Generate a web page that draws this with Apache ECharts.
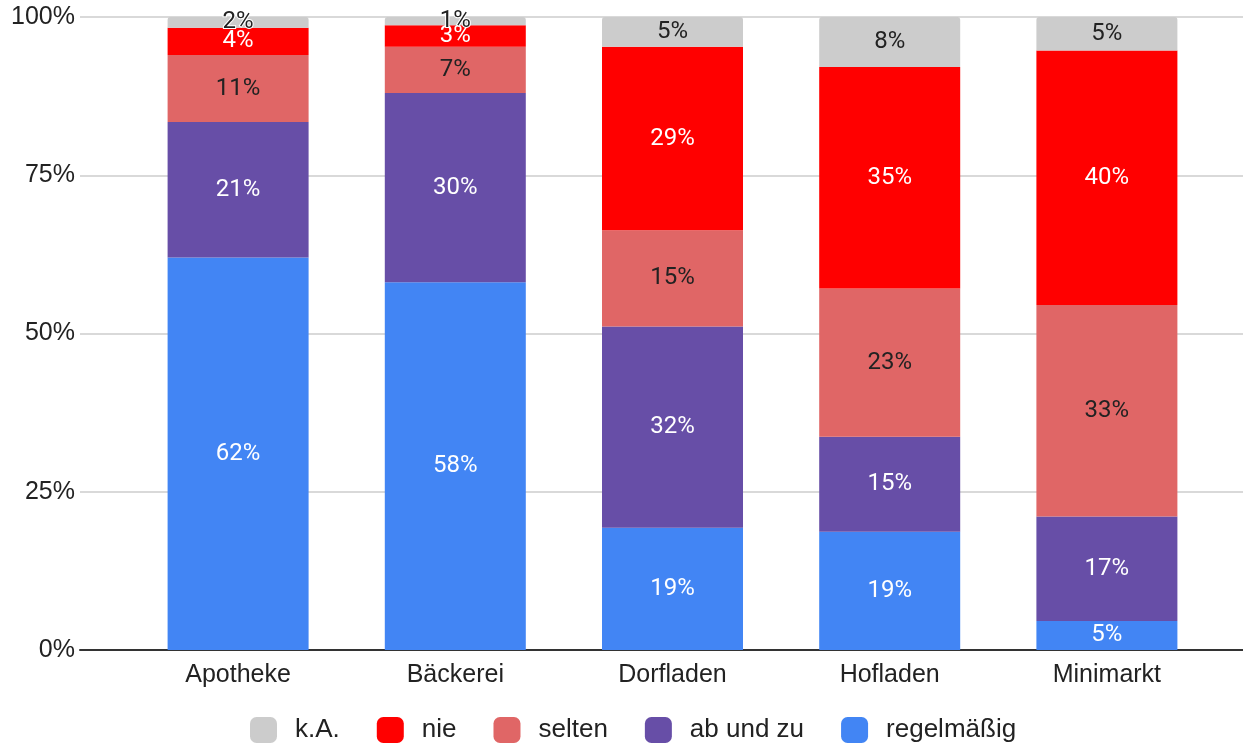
<!DOCTYPE html>
<html>
<head>
<meta charset="utf-8">
<script src="https://cdn.jsdelivr.net/npm/echarts@6/dist/echarts.min.js"></script>
<style>
  html, body { margin: 0; padding: 0; background: #fff; }
  #chart { width: 1243px; height: 744px; }
</style>
</head>
<body>
<div id="chart"></div>
<script>
// categories + values (percent)
var categories = ["Apotheke", "Bäckerei", "Dorfladen", "Hofladen", "Minimarkt"];
var regelmaessig = [62.0, 58.1, 19.3, 18.7, 4.6];
var abUndZu = [21.4, 29.9, 31.8, 15.0, 16.5];
var selten = [10.6, 7.3, 15.2, 23.4, 33.4];
var nie = [4.3, 3.4, 29.0, 35.0, 40.2];
var kA = [1.7, 1.3, 4.7, 7.9, 5.3];
var yTicks = [0, 25, 50, 75, 100];

var myChart = echarts.init(document.getElementById("chart"));
var axisFont = "'Liberation Sans', Arial, sans-serif";
var labelFont = "Roboto, Arial, sans-serif";

function pct(p) { return Math.round(p.value) + "%"; }

function makeSeries(name, data, color, textColor, top) {
  return {
    name: name,
    type: "bar",
    stack: "all",
    xAxisIndex: 1,
    yAxisIndex: 1,
    barWidth: 141,
    itemStyle: { color: color, borderRadius: top ? [3, 3, 0, 0] : 0 },
    label: {
      show: true,
      position: "inside",
      formatter: pct,
      color: textColor,
      fontSize: 24,
      fontFamily: labelFont
    },
    emphasis: { disabled: true },
    data: data.map(function (v) {
      // tiny segments get a white halo like the original
      if (top && v < 3) {
        return { value: v, label: { textBorderColor: "#fff", textBorderWidth: 2 } };
      }
      return v;
    })
  };
}

var option = {
  animation: false,
  legend: {
    top: 717,
    left: 250,
    padding: 0,
    itemWidth: 27,
    itemHeight: 26,
    itemGap: 37,
    icon: "roundRect",
    textStyle: { fontSize: 26, color: "#222", fontFamily: axisFont, padding: [0, 0, 0, 13] },
    data: ["k.A.", "nie", "selten", "ab und zu", "regelmäßig"]
  },
  grid: [
    { left: 80, right: 0, top: 17, bottom: 94 },
    { left: 129.5, right: 27.5, top: 17, bottom: 94 }
  ],
  xAxis: [
    {
      gridIndex: 0,
      type: "category",
      data: [""],
      axisLine: { lineStyle: { color: "#333", width: 2 } },
      axisTick: { show: false },
      axisLabel: { show: false }
    },
    {
      gridIndex: 1,
      type: "category",
      data: categories,
      axisLine: { show: false },
      axisTick: { show: false },
      axisLabel: { fontSize: 25, color: "#222", fontFamily: axisFont, margin: 13 }
    }
  ],
  yAxis: [
    {
      gridIndex: 0,
      type: "value",
      min: 0,
      max: 100,
      interval: 25,
      axisLabel: {
        fontSize: 25,
        color: "#222",
        fontFamily: axisFont,
        margin: 5,
        formatter: function (v) { return yTicks.indexOf(v) >= 0 ? v + "%" : ""; }
      },
      splitLine: { lineStyle: { color: "#ccc", width: 1.5 } },
      axisLine: { show: false },
      axisTick: { show: false }
    },
    {
      gridIndex: 1,
      type: "value",
      min: 0,
      max: 100,
      interval: 25,
      show: false
    }
  ],
  series: [
    makeSeries("regelmäßig", regelmaessig, "#4285f4", "#fff", false),
    makeSeries("ab und zu", abUndZu, "#674ea7", "#fff", false),
    makeSeries("selten", selten, "#e06666", "#222", false),
    makeSeries("nie", nie, "#ff0000", "#fff", false),
    makeSeries("k.A.", kA, "#cccccc", "#222", true)
  ]
};

myChart.setOption(option);
</script>
</body>
</html>
